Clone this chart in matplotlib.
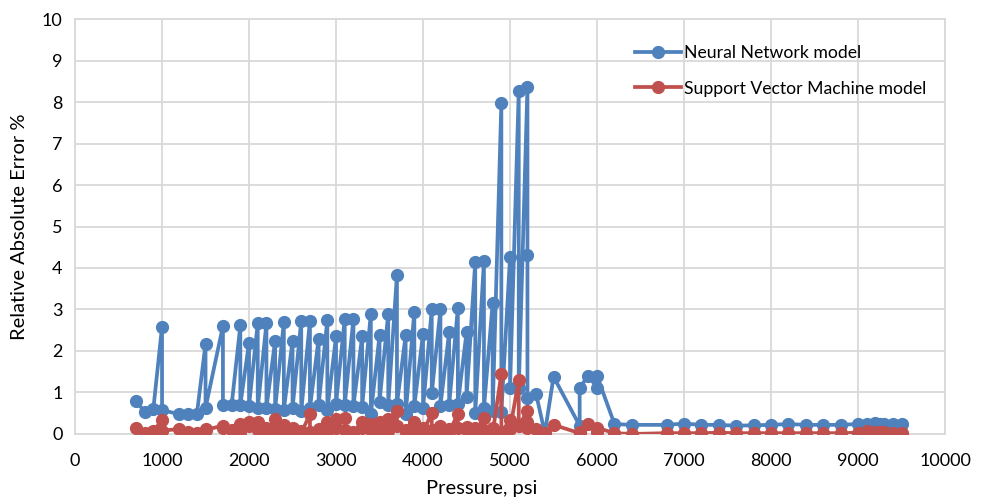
import matplotlib
matplotlib.use("Agg")
import matplotlib.pyplot as plt

plt.rcParams['font.family'] = ['Lato', 'DejaVu Sans']

# pressure (psi) of each test point, sorted, as on the chart
pressure = [700, 800, 900, 1000, 1000, 1200, 1300, 1400, 1500, 1500,
            1700, 1700, 1800, 1900, 1900, 2000, 2000, 2100, 2100, 2200, 2200,
            2300, 2300, 2400, 2400, 2500, 2500, 2600, 2600, 2700, 2700,
            2800, 2800, 2900, 2900, 3000, 3000, 3100, 3100, 3200, 3200,
            3300, 3300, 3400, 3400, 3500, 3500, 3600, 3600, 3700, 3700,
            3800, 3800, 3900, 3900, 4000, 4000, 4100, 4100, 4200, 4200,
            4300, 4300, 4400, 4400, 4500, 4500, 4600, 4600, 4700, 4700,
            4800, 4800, 4900, 4900, 5000, 5000, 5100, 5100, 5200, 5200, 5200,
            5300, 5400, 5500, 5800, 5800, 5900, 6000, 6000, 6200, 6400,
            6800, 7000, 7200, 7400, 7600, 7800, 8000, 8200, 8400, 8600, 8800,
            9000, 9100, 9200, 9250, 9300, 9400, 9500]

nn_error = [0.80, 0.53, 0.60, 2.58, 0.57, 0.48, 0.48, 0.47, 2.17, 0.63,
            2.60, 0.70, 0.70, 2.62, 0.70, 2.20, 0.68, 2.67, 0.62, 2.67, 0.63,
            2.25, 0.60, 2.70, 0.58, 2.25, 0.62, 2.73, 0.55, 2.73, 0.62,
            2.30, 0.70, 2.75, 0.58, 2.35, 0.72, 2.78, 0.70, 2.78, 0.68,
            2.35, 0.66, 2.90, 0.48, 2.38, 0.78, 2.90, 0.70, 3.83, 0.72,
            2.38, 0.48, 2.95, 0.68, 2.42, 0.62, 3.00, 0.98, 3.00, 0.68,
            2.45, 0.70, 3.03, 0.72, 2.45, 0.88, 4.15, 0.50, 4.17, 0.62,
            3.15, 0.55, 7.97, 0.52, 4.27, 1.10, 8.27, 1.10, 8.37, 4.32, 0.87,
            0.96, 0.02, 1.38, 0.20, 1.12, 1.40, 1.12, 1.40, 0.24, 0.22,
            0.22, 0.25, 0.22, 0.22, 0.20, 0.21, 0.22, 0.24, 0.22, 0.22, 0.22,
            0.24, 0.25, 0.26, 0.25, 0.24, 0.23, 0.24]

svm_error = [0.14, 0.03, 0.06, 0.34, 0.08, 0.12, 0.05, 0.03, 0.12, 0.10,
             0.20, 0.15, 0.10, 0.25, 0.05, 0.30, 0.20, 0.28, 0.10, 0.15, 0.05,
             0.35, 0.12, 0.22, 0.10, 0.15, 0.03, 0.08, 0.02, 0.48, 0.05,
             0.12, 0.05, 0.30, 0.05, 0.35, 0.15, 0.38, 0.10, 0.05, 0.02,
             0.30, 0.15, 0.25, 0.10, 0.28, 0.05, 0.35, 0.08, 0.55, 0.20,
             0.10, 0.05, 0.30, 0.12, 0.15, 0.05, 0.50, 0.10, 0.20, 0.08,
             0.12, 0.05, 0.48, 0.15, 0.18, 0.10, 0.15, 0.05, 0.38, 0.10,
             0.15, 0.02, 1.45, 0.05, 0.33, 0.12, 1.30, 0.20, 0.55, 0.30, 0.15,
             0.12, 0.02, 0.22, 0.02, 0.05, 0.25, 0.05, 0.15, 0.02, 0.00,
             0.02, 0.02, 0.02, 0.03, 0.02, 0.02, 0.02, 0.02, 0.02, 0.02, 0.02,
             0.03, 0.06, 0.05, 0.04, 0.05, 0.03, 0.02]

blue = '#4F81BD'
red = '#C0504D'
grid = '#D9D9D9'

fig = plt.figure(figsize=(9.82, 5.03), dpi=100)
ax = fig.add_axes([0.0764, 0.1372, 0.886, 0.825])

ax.plot(pressure, nn_error, color=blue, lw=2.7, marker='o', ms=8.5,
        label='Neural Network model', zorder=3)
ax.plot(pressure, svm_error, color=red, lw=2.7, marker='o', ms=8.5,
        label='Support Vector Machine model', zorder=4)

ax.set_xlim(0, 10000)
ax.set_ylim(0, 10)
ax.set_xticks(range(0, 10001, 1000))
ax.set_yticks(range(0, 11))
ax.grid(True, color=grid, lw=1.3)
ax.set_axisbelow(True)
for s in ax.spines.values():
    s.set_color(grid)
    s.set_linewidth(1.3)
ax.tick_params(length=0, labelsize=13, colors='#000000')
ax.tick_params(axis='x', pad=14)
ax.tick_params(axis='y', pad=9)

ax.set_xlabel('Pressure, psi', fontsize=14.5)
ax.xaxis.set_label_coords(0.467, -0.11)
ax.set_ylabel('Relative Absolute Error %', fontsize=14.5, labelpad=10)

ax.legend(loc='upper left', bbox_to_anchor=(0.625, 0.975), frameon=False,
          fontsize=12.7, labelspacing=1.1, handlelength=2.6, handletextpad=0.2)

fig.savefig('out.png', dpi=100)
